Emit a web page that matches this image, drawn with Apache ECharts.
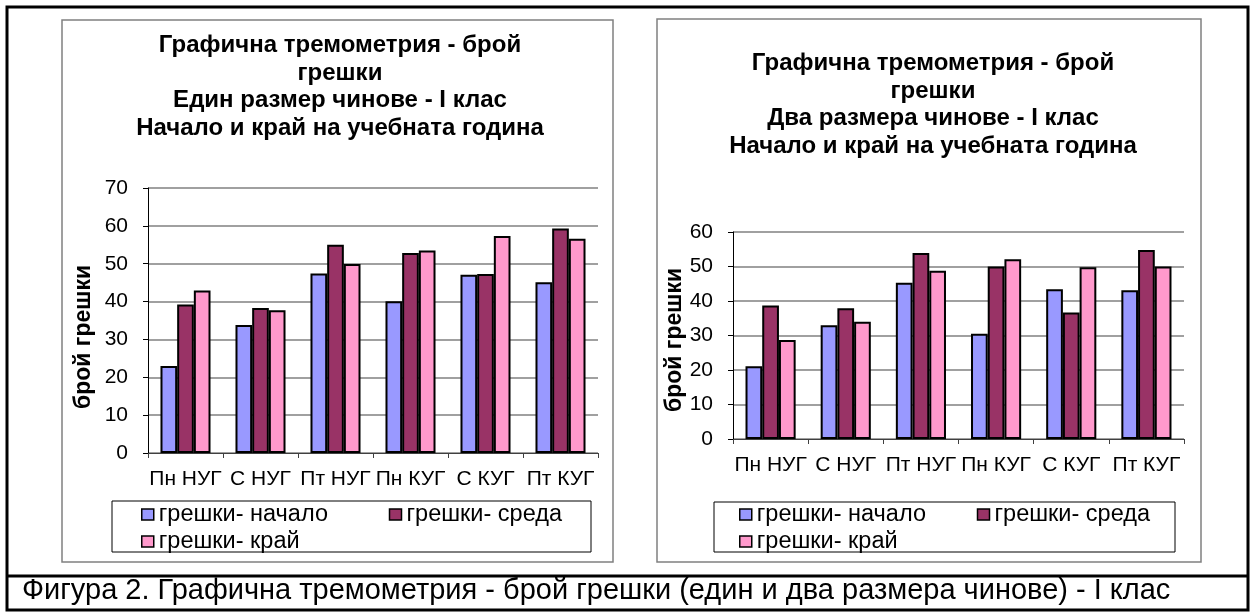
<!DOCTYPE html>
<html>
<head>
<meta charset="utf-8">
<script src="https://cdn.jsdelivr.net/npm/echarts@6/dist/echarts.min.js"></script>
<style>
html,body{margin:0;padding:0;background:#fff;}
#c{width:1255px;height:612px;}
</style>
</head>
<body>
<div id="c"></div>
<script>
const categories = ['Пн НУГ', 'С НУГ', 'Пт НУГ', 'Пн КУГ', 'С КУГ', 'Пт КУГ'];
const seriesNames = ['грешки- начало', 'грешки- среда', 'грешки- край'];
// Chart 1: one desk size
const oneStart = [23.0, 33.8, 47.4, 40.1, 47.1, 45.1];
const oneMid   = [39.2, 38.3, 55.0, 52.8, 47.3, 59.3];
const oneEnd   = [42.9, 37.7, 49.9, 53.5, 57.3, 56.6];
// Chart 2: two desk sizes
const twoStart = [21.1, 33.0, 45.3, 30.5, 43.4, 43.1];
const twoMid   = [38.7, 37.9, 53.9, 50.0, 36.7, 54.8];
const twoEnd   = [28.7, 34.0, 48.8, 52.1, 49.8, 50.0];
const yTicks1 = {min: 0, max: 70, interval: 10};
const yTicks2 = {min: 0, max: 60, interval: 10};
const title1 = 'Графична тремометрия - брой\nгрешки\nЕдин размер чинове - I клас\nНачало и край на учебната година';
const title2 = 'Графична тремометрия - брой\nгрешки\nДва размера чинове - I клас\nНачало и край на учебната година';
const yTitle = 'брой грешки';
const caption = 'Фигура 2. Графична тремометрия - брой грешки (един и два размера чинове) - I клас';

const colors = ['#9999FF', '#993366', '#FF99CC'];
const FONT = '"Liberation Sans", Arial, sans-serif';

const chart = echarts.init(document.getElementById('c'), null, {renderer: 'canvas'});

function yAxis(idx, t) {
  return {
    type: 'value', gridIndex: idx, min: t.min, max: t.max, interval: t.interval,
    axisLine: {show: true, lineStyle: {color: '#000', width: 1}},
    axisTick: {show: true, length: 5, inside: false, lineStyle: {color: '#000'}},
    axisLabel: {fontSize: 21, color: '#000', fontFamily: FONT, margin: 20},
    splitLine: {show: true, lineStyle: {color: '#808080', width: 1.5}}
  };
}
function xAxis(idx) {
  return {
    type: 'category', gridIndex: idx, data: categories,
    axisLine: {show: true, onZero: false, lineStyle: {color: '#404040', width: 1}},
    axisTick: {show: true, length: 5, alignWithLabel: false, interval: 0, lineStyle: {color: '#404040'}},
    axisLabel: {fontSize: 21, color: '#000', fontFamily: FONT, margin: 16, interval: 0}
  };
}
function bars(idx, arrs) {
  return arrs.map((d, i) => ({
    type: 'bar', name: seriesNames[i], xAxisIndex: idx, yAxisIndex: idx, data: d,
    barGap: '0%', barCategoryGap: '33.3%',
    itemStyle: {color: colors[i], borderColor: '#000', borderWidth: 2},
    emphasis: {disabled: true}
  }));
}
function legend(left, top, itemW) {
  return {
    left: left, top: top, orient: 'horizontal', width: itemW * 2 + 20, padding: 0, itemGap: 0,
    icon: 'rect', itemWidth: 12, itemHeight: 11,
    itemStyle: {borderColor: '#000', borderWidth: 1.5},
    data: seriesNames,
    textStyle: {fontSize: 23.5, color: '#000', fontFamily: FONT, width: itemW - 17, lineHeight: 27, overflow: 'none'},
    selectedMode: false
  };
}

const option = {
  animation: false,
  backgroundColor: '#fff',
  grid: [
    {left: 148, top: 188, width: 450, height: 265, containLabel: false},
    {left: 733, top: 232, width: 451, height: 207, containLabel: false}
  ],
  xAxis: [xAxis(0), xAxis(1)],
  yAxis: [yAxis(0, yTicks1), yAxis(1, yTicks2)],
  legend: [legend(141, 501, 247), legend(739, 501, 237)],
  series: bars(0, [oneStart, oneMid, oneEnd]).concat(bars(1, [twoStart, twoMid, twoEnd])),
  graphic: [
    {type: 'rect', silent: true, z: -10, shape: {x: 7, y: 7, width: 1241, height: 603}, style: {fill: 'none', stroke: '#000', lineWidth: 3}},
    {type: 'line', silent: true, z: -10, shape: {x1: 7, y1: 576, x2: 1248, y2: 576}, style: {stroke: '#000', lineWidth: 3}},
    {type: 'rect', silent: true, z: -10, shape: {x: 62, y: 20, width: 551, height: 542}, style: {fill: 'none', stroke: '#808080', lineWidth: 1.5}},
    {type: 'rect', silent: true, z: -10, shape: {x: 657, y: 19, width: 544, height: 543}, style: {fill: 'none', stroke: '#808080', lineWidth: 1.5}},
    {type: 'rect', silent: true, z: -10, shape: {x: 112, y: 501, width: 479, height: 51}, style: {fill: 'none', stroke: '#000', lineWidth: 1}},
    {type: 'rect', silent: true, z: -10, shape: {x: 714, y: 502, width: 461, height: 50}, style: {fill: 'none', stroke: '#000', lineWidth: 1}},
    {type: 'text', silent: true, x: 340, y: 32, style: {text: title1, fill: '#000', font: 'bold 24px ' + FONT, textAlign: 'center', textVerticalAlign: 'top', lineHeight: 27.5}},
    {type: 'text', silent: true, x: 933, y: 50, style: {text: title2, fill: '#000', font: 'bold 24px ' + FONT, textAlign: 'center', textVerticalAlign: 'top', lineHeight: 27.5}},
    {type: 'text', silent: true, x: 84, y: 337, rotation: Math.PI / 2, style: {text: yTitle, fill: '#000', font: 'bold 23px ' + FONT, textAlign: 'center', textVerticalAlign: 'middle'}},
    {type: 'text', silent: true, x: 675, y: 340, rotation: Math.PI / 2, style: {text: yTitle, fill: '#000', font: 'bold 23px ' + FONT, textAlign: 'center', textVerticalAlign: 'middle'}},
    {type: 'text', silent: true, x: 22, y: 591, style: {text: caption, fill: '#000', font: '29px ' + FONT, textAlign: 'left', textVerticalAlign: 'middle'}}
  ]
};
chart.setOption(option);
</script>
</body>
</html>
